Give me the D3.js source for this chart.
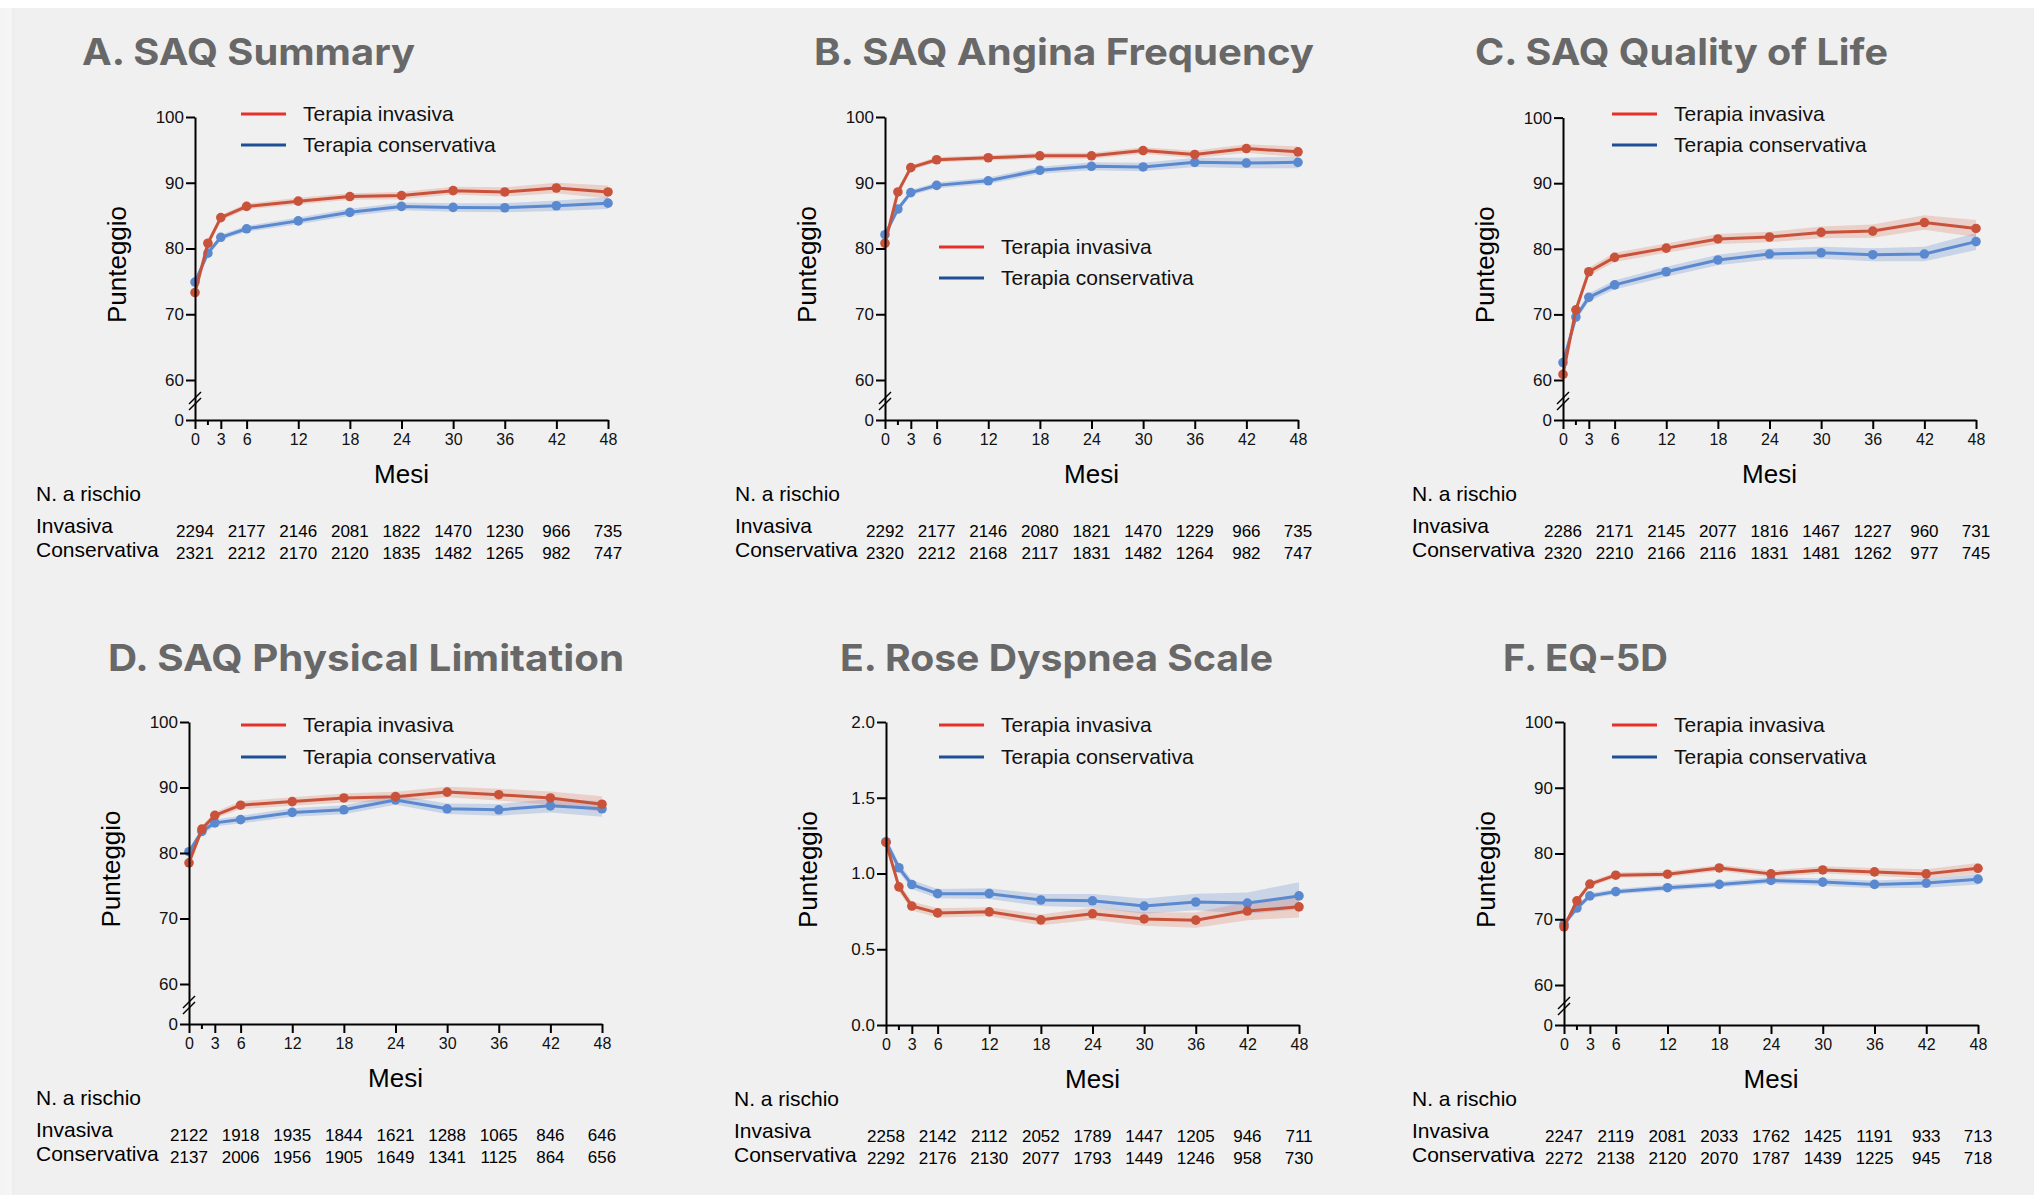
<!DOCTYPE html>
<html><head><meta charset="utf-8">
<script src="https://cdn.jsdelivr.net/npm/d3@7"></script>
<style>body{margin:0;background:#f0f0f0;} svg{display:block}</style>
</head><body><svg id="c" width="2034" height="1195"></svg>
<script>
// ---------- DATA ----------
const months = [0, 1.5, 3, 6, 12, 18, 24, 30, 36, 42, 48];
const riskMonths = [0, 6, 12, 18, 24, 30, 36, 42, 48];
const xTickValues = [0, 3, 6, 12, 18, 24, 30, 36, 42, 48];
const xMinorTicks = [1.5];
const breakYTicks = [0, 60, 70, 80, 90, 100];
const roseYTicks = [0, 0.5, 1.0, 1.5, 2.0];
const seriesNames = ["Terapia invasiva", "Terapia conservativa"];
const riskRowLabels = ["Invasiva", "Conservativa"];
const riskHeader = "N. a rischio";
const xAxisLabel = "Mesi";
const yAxisLabel = "Punteggio";
const panelTitles = ["A. SAQ Summary", "B. SAQ Angina Frequency", "C. SAQ Quality of Life",
  "D. SAQ Physical Limitation", "E. Rose Dyspnea Scale", "F. EQ-5D"];

// A. SAQ Summary
const summaryInv = [73.3, 80.8, 84.7, 86.4, 87.2, 87.9, 88.05, 88.8, 88.6, 89.2, 88.6];
const summaryCons = [74.9, 79.3, 81.7, 83.0, 84.2, 85.5, 86.4, 86.25, 86.2, 86.5, 86.9];
const summaryInvCI = [0.4, 0.4, 0.4, 0.45, 0.5, 0.5, 0.55, 0.6, 0.7, 0.8, 1.0];
const summaryConsCI = [0.4, 0.4, 0.4, 0.45, 0.5, 0.55, 0.6, 0.65, 0.7, 0.8, 0.9];
const summaryRiskInv = [2294, 2177, 2146, 2081, 1822, 1470, 1230, 966, 735];
const summaryRiskCons = [2321, 2212, 2170, 2120, 1835, 1482, 1265, 982, 747];

// B. SAQ Angina Frequency
const anginaInv = [80.8, 88.6, 92.3, 93.5, 93.8, 94.1, 94.1, 94.9, 94.3, 95.2, 94.7];
const anginaCons = [82.1, 86.0, 88.5, 89.6, 90.3, 91.9, 92.5, 92.4, 93.1, 93.0, 93.1];
const anginaInvCI = [0.35, 0.35, 0.35, 0.4, 0.4, 0.45, 0.45, 0.5, 0.55, 0.65, 0.8];
const anginaConsCI = [0.4, 0.4, 0.4, 0.45, 0.5, 0.55, 0.6, 0.65, 0.7, 0.8, 0.9];
const anginaRiskInv = [2292, 2177, 2146, 2080, 1821, 1470, 1229, 966, 735];
const anginaRiskCons = [2320, 2212, 2168, 2117, 1831, 1482, 1264, 982, 747];

// C. SAQ Quality of Life
const qolInv = [60.85, 70.7, 76.5, 78.7, 80.1, 81.5, 81.8, 82.5, 82.7, 84.0, 83.1];
const qolCons = [62.65, 69.6, 72.6, 74.5, 76.5, 78.3, 79.2, 79.4, 79.1, 79.2, 81.1];
const qolInvCI = [0.7, 0.6, 0.6, 0.7, 0.7, 0.75, 0.8, 0.9, 1.0, 1.1, 1.3];
const qolConsCI = [0.7, 0.6, 0.6, 0.7, 0.75, 0.8, 0.85, 0.9, 1.0, 1.1, 1.3];
const qolRiskInv = [2286, 2171, 2145, 2077, 1816, 1467, 1227, 960, 731];
const qolRiskCons = [2320, 2210, 2166, 2116, 1831, 1481, 1262, 977, 745];

// D. SAQ Physical Limitation
const physInv = [78.5, 83.65, 85.75, 87.3, 87.85, 88.4, 88.6, 89.3, 88.9, 88.4, 87.45];
const physCons = [80.2, 83.3, 84.6, 85.1, 86.2, 86.6, 88.1, 86.75, 86.6, 87.2, 86.75];
const physInvCI = [0.5, 0.5, 0.5, 0.6, 0.65, 0.7, 0.75, 0.8, 0.9, 1.0, 1.2];
const physConsCI = [0.5, 0.5, 0.5, 0.6, 0.65, 0.7, 0.75, 0.8, 0.9, 1.0, 1.2];
const physRiskInv = [2122, 1918, 1935, 1844, 1621, 1288, 1065, 846, 646];
const physRiskCons = [2137, 2006, 1956, 1905, 1649, 1341, 1125, 864, 656];

// E. Rose Dyspnea Scale
const roseInv = [1.205, 0.912, 0.785, 0.74, 0.747, 0.694, 0.734, 0.70, 0.692, 0.752, 0.78];
const roseCons = [1.21, 1.038, 0.927, 0.867, 0.867, 0.825, 0.82, 0.785, 0.812, 0.805, 0.852];
const roseInvCI = [0.03, 0.03, 0.03, 0.03, 0.03, 0.035, 0.04, 0.045, 0.05, 0.06, 0.07];
const roseConsCI = [0.03, 0.03, 0.03, 0.03, 0.035, 0.04, 0.045, 0.05, 0.055, 0.07, 0.09];
const roseRiskInv = [2258, 2142, 2112, 2052, 1789, 1447, 1205, 946, 711];
const roseRiskCons = [2292, 2176, 2130, 2077, 1793, 1449, 1246, 958, 730];

// F. EQ-5D
const eqInv = [68.85, 72.8, 75.35, 76.7, 76.85, 77.8, 76.9, 77.5, 77.2, 76.9, 77.75];
const eqCons = [69.25, 71.7, 73.55, 74.2, 74.8, 75.3, 75.9, 75.65, 75.3, 75.5, 76.1];
const eqInvCI = [0.4, 0.4, 0.4, 0.4, 0.45, 0.45, 0.5, 0.55, 0.6, 0.7, 0.8];
const eqConsCI = [0.4, 0.4, 0.4, 0.4, 0.45, 0.45, 0.5, 0.55, 0.6, 0.7, 0.8];
const eqRiskInv = [2247, 2119, 2081, 2033, 1762, 1425, 1191, 933, 713];
const eqRiskCons = [2272, 2138, 2120, 2070, 1787, 1439, 1225, 945, 718];

// ---------- TABLE BUILT FROM DATA ----------
const panelData = [
  {inv: summaryInv, cons: summaryCons, invCI: summaryInvCI, consCI: summaryConsCI, rInv: summaryRiskInv, rCons: summaryRiskCons, rose: false},
  {inv: anginaInv, cons: anginaCons, invCI: anginaInvCI, consCI: anginaConsCI, rInv: anginaRiskInv, rCons: anginaRiskCons, rose: false},
  {inv: qolInv, cons: qolCons, invCI: qolInvCI, consCI: qolConsCI, rInv: qolRiskInv, rCons: qolRiskCons, rose: false},
  {inv: physInv, cons: physCons, invCI: physInvCI, consCI: physConsCI, rInv: physRiskInv, rCons: physRiskCons, rose: false},
  {inv: roseInv, cons: roseCons, invCI: roseInvCI, consCI: roseConsCI, rInv: roseRiskInv, rCons: roseRiskCons, rose: true},
  {inv: eqInv, cons: eqCons, invCI: eqInvCI, consCI: eqConsCI, rInv: eqRiskInv, rCons: eqRiskCons, rose: false}
];

// ---------- LAYOUT ----------
const layout = [
  {x0: 195, x1: 608, yTop: 117, yAxis: 420, titleX: 82, titleY: 65, titleW: 333, legX: 241, legY: [114, 145], tabX: 36},
  {x0: 885, x1: 1298, yTop: 117, yAxis: 420, titleX: 814, titleY: 65, titleW: 500, legX: 939, legY: [247, 278], tabX: 735},
  {x0: 1563, x1: 1976, yTop: 117.6, yAxis: 420, titleX: 1475, titleY: 65, titleW: 413, legX: 1612, legY: [114, 145], tabX: 1412},
  {x0: 189, x1: 602, yTop: 722, yAxis: 1024, titleX: 108, titleY: 671, titleW: 516, legX: 241, legY: [725, 757], tabX: 36},
  {x0: 886, x1: 1299, yTop: 722, yAxis: 1025, titleX: 840, titleY: 671, titleW: 433, legX: 939, legY: [725, 757], tabX: 734},
  {x0: 1564, x1: 1978, yTop: 722, yAxis: 1025, titleX: 1503, titleY: 671, titleW: 165, legX: 1612, legY: [725, 757], tabX: 1412}
];

const C = {
  red: "#c9533a", blue: "#5b89cf",
  redBand: "rgba(214,110,85,0.25)", blueBand: "rgba(100,140,210,0.28)",
  legRed: "#e8302b", legBlue: "#1e4f94",
  title: "#686868"
};
const FONT = "'Liberation Sans', Arial, sans-serif";

const svg = d3.select("#c");
svg.append("rect").attr("width", 2034).attr("height", 1195).attr("fill", "#f0f0f0");
svg.append("rect").attr("width", 2034).attr("height", 8).attr("fill", "#ffffff");
const defs = svg.append("defs");
const lg = defs.append("linearGradient").attr("id", "edge").attr("x1", 0).attr("x2", 1);
lg.append("stop").attr("offset", 0).attr("stop-color", "#f3f3f3");
lg.append("stop").attr("offset", 0.8).attr("stop-color", "#f6f6f6");
lg.append("stop").attr("offset", 1).attr("stop-color", "#e9e9e9");
svg.append("rect").attr("x", 0).attr("y", 8).attr("width", 14).attr("height", 1187).attr("fill", "url(#edge)");

panelData.forEach((p, i) => drawPanel(p, layout[i], panelTitles[i]));

function drawPanel(p, L, title) {
  const g = svg.append("g");
  const x = d3.scaleLinear().domain([0, 48]).range([L.x0, L.x1]);
  const y = p.rose
    ? d3.scaleLinear().domain([0, 2]).range([L.yAxis, L.yTop])
    : d3.scaleLinear().domain([0, 60, 100]).range([L.yAxis, L.yAxis - 40, L.yTop]);

  // title
  g.append("text").attr("x", L.titleX).attr("y", L.titleY)
    .attr("font-family", "Inter, 'Open Sans', sans-serif").attr("font-weight", 700)
    .attr("font-size", 37).attr("fill", C.title)
    .attr("textLength", L.titleW).attr("lengthAdjust", "spacingAndGlyphs")
    .text(title);

  // bands
  const band = (vals, ci) => d3.area()
    .x((d, k) => x(months[k]))
    .y0((d, k) => y(vals[k] - ci[k]))
    .y1((d, k) => y(vals[k] + ci[k]))(vals);
  g.append("path").attr("d", band(p.cons, p.consCI)).attr("fill", C.blueBand);
  g.append("path").attr("d", band(p.inv, p.invCI)).attr("fill", C.redBand);

  const line = d3.line().x((d, k) => x(months[k])).y(d => y(d));
  [[p.cons, C.blue], [p.inv, C.red]].forEach(([vals, col]) => {
    g.append("path").attr("d", line(vals)).attr("fill", "none")
      .attr("stroke", col).attr("stroke-width", 3).attr("stroke-linejoin", "round");
    g.selectAll(null).data(vals).join("circle")
      .attr("cx", (d, k) => x(months[k])).attr("cy", d => y(d))
      .attr("r", 4.8).attr("fill", col);
  });

  // axes
  const ya = d3.axisLeft(y)
    .tickValues(p.rose ? roseYTicks : breakYTicks)
    .tickFormat(p.rose ? d3.format(".1f") : d3.format("d"))
    .tickSize(9).tickSizeOuter(0).tickPadding(2);
  const yg = g.append("g").attr("transform", `translate(${L.x0},0)`).call(ya);
  const xa = d3.axisBottom(x).tickValues(xTickValues).tickFormat(d3.format("d"))
    .tickSize(9).tickSizeOuter(0).tickPadding(5);
  const xg = g.append("g").attr("transform", `translate(0,${L.yAxis})`).call(xa);
  [yg, xg].forEach(ax => {
    ax.select(".domain").attr("stroke", "#000").attr("stroke-width", 2);
    ax.selectAll(".tick line").attr("stroke", "#000").attr("stroke-width", 2);
    ax.selectAll(".tick text").attr("fill", "#111").attr("font-family", FONT);
  });
  yg.selectAll(".tick text").attr("font-size", 17);
  xg.selectAll(".tick text").attr("font-size", 16);
  xMinorTicks.forEach(m => {
    g.append("line").attr("x1", x(m)).attr("x2", x(m)).attr("y1", L.yAxis).attr("y2", L.yAxis + 5)
      .attr("stroke", "#000").attr("stroke-width", 2);
  });

  // axis break marks
  if (!p.rose) {
    [L.yAxis - 22, L.yAxis - 16].forEach(cy => {
      g.append("line").attr("x1", L.x0 - 6).attr("y1", cy + 6).attr("x2", L.x0 + 6).attr("y2", cy - 6)
        .attr("stroke", "#000").attr("stroke-width", 1.5);
    });
  }

  // axis labels
  g.append("text").attr("transform", `translate(${L.x0 - 78},${(L.yTop + L.yAxis) / 2 - 4}) rotate(-90)`)
    .attr("text-anchor", "middle").attr("dy", "0.35em")
    .attr("font-family", FONT).attr("font-size", 26).attr("fill", "#000").text(yAxisLabel);
  g.append("text").attr("x", (L.x0 + L.x1) / 2).attr("y", L.yAxis + 63)
    .attr("text-anchor", "middle").attr("font-family", FONT).attr("font-size", 26).attr("fill", "#000")
    .text(xAxisLabel);

  // legend
  [[C.legRed, seriesNames[0]], [C.legBlue, seriesNames[1]]].forEach(([col, name], k) => {
    g.append("line").attr("x1", L.legX).attr("x2", L.legX + 45).attr("y1", L.legY[k]).attr("y2", L.legY[k])
      .attr("stroke", col).attr("stroke-width", 3);
    g.append("text").attr("x", L.legX + 62).attr("y", L.legY[k]).attr("dy", "0.35em")
      .attr("font-family", FONT).attr("font-size", 21).attr("fill", "#111").text(name);
  });

  // risk table
  g.append("text").attr("x", L.tabX).attr("y", L.yAxis + 81)
    .attr("font-family", FONT).attr("font-size", 21).attr("fill", "#000").text(riskHeader);
  [[riskRowLabels[0], p.rInv, 113, 117], [riskRowLabels[1], p.rCons, 137, 139]].forEach(([lab, vals, ly, ny]) => {
    g.append("text").attr("x", L.tabX).attr("y", L.yAxis + ly)
      .attr("font-family", FONT).attr("font-size", 21).attr("fill", "#000").text(lab);
    g.selectAll(null).data(vals).join("text")
      .attr("x", (d, k) => x(riskMonths[k])).attr("y", L.yAxis + ny)
      .attr("text-anchor", "middle").attr("font-family", FONT).attr("font-size", 17).attr("fill", "#000")
      .text(d => d);
  });
}
</script></body></html>
